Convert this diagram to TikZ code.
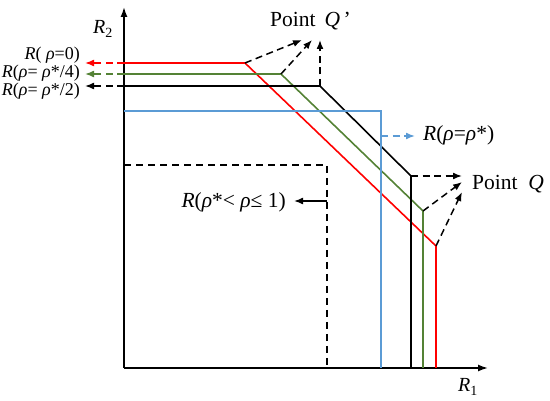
\documentclass[tikz,border=0pt]{standalone}
\usepackage{fontspec}
\setmainfont{Liberation Serif}
\usepackage{xcolor}
\usetikzlibrary{arrows.meta}

\definecolor{regred}{RGB}{255,0,0}
\definecolor{reggreen}{RGB}{84,130,53}
\definecolor{regblue}{RGB}{91,155,213}

\begin{document}
\begin{tikzpicture}[x=1pt, y=-1pt,
	axis/.style={line width=1.6pt, -{Latex[length=10pt,width=7pt]}},
	region/.style={line width=1.6pt},
	guide/.style={line width=1.5pt, dashed, dash pattern=on 7pt off 4.5pt, -{Latex[length=9pt,width=7pt]}},
	lbl/.style={inner sep=0pt, font=\fontsize{21.5}{21.5}\selectfont},
	small lbl/.style={inner sep=0pt, font=\fontsize{18}{18}\selectfont}]
	\useasboundingbox (0,0) rectangle (550,401);

	% axes
	\coordinate (O)    at (124,368);
	\coordinate (ytop) at (124,7);
	\coordinate (xend) at (488,368);
	\draw[axis] (O) -- (ytop);
	\draw[axis] (O) -- (xend);
	\node[lbl, font=\fontsize{20}{20}\selectfont] (R2) at (103,29)  {\textit{R}\textsubscript{2}};
	\node[lbl, font=\fontsize{20}{20}\selectfont] (R1) at (468,387) {\textit{R}\textsubscript{1}};

	% corners of the regions
	\coordinate (r0) at (124,63);  \coordinate (r1) at (245,63);
	\coordinate (r2) at (436,246); \coordinate (r3) at (436,368);
	\coordinate (g0) at (124,74);  \coordinate (g1) at (281,74);
	\coordinate (g2) at (423,211); \coordinate (g3) at (423,368);
	\coordinate (k0) at (124,86);  \coordinate (k1) at (320,86);
	\coordinate (k2) at (411,176); \coordinate (k3) at (411,368);
	\coordinate (b0) at (124,111); \coordinate (b1) at (381,111);
	\coordinate (b2) at (381,368);
	\coordinate (d0) at (124,165); \coordinate (d1) at (327,165);
	\coordinate (d2) at (327,368);

	\draw[region, regred]   (r0) -- (r1) -- (r2) -- (r3);
	\draw[region, reggreen] (g0) -- (g1) -- (g2) -- (g3);
	\draw[region, black]    (k0) -- (k1) -- (k2) -- (k3);
	\draw[region, regblue]  (b0) -- (b1) -- (b2);
	\draw[region, dashed, dash pattern=on 7pt off 5pt] (d0) -- (d1) -- (d2);

	% labels on the left
	\coordinate (rL) at (85,63);
	\coordinate (gL) at (85,74);
	\coordinate (kL) at (85,86);
	\draw[guide, regred]   (r0) -- (rL);
	\draw[guide, reggreen] (g0) -- (gL);
	\draw[guide, black]    (k0) -- (kL);
	\node[small lbl, anchor=east] (rho0) at (80,55) {\textit{R}( \textit{ρ}=0)};
	\node[small lbl, anchor=east] (rho4) at (80,73) {\textit{R}(\textit{ρ}= \textit{ρ}*/4)};
	\node[small lbl, anchor=east] (rho2) at (80,91) {\textit{R}(\textit{ρ}= \textit{ρ}*/2)};

	% point Q'
	\node[lbl, anchor=west] (Qp) at (270,21) {Point~\,\textit{Q}\,'};
	\coordinate (qp1) at (302,40);
	\coordinate (qp2) at (312,40);
	\coordinate (qp3) at (320,40);
	\draw[guide] (r1) -- (qp1);
	\draw[guide] (g1) -- (qp2);
	\draw[guide] (k1) -- (qp3);

	% point Q
	\node[lbl, anchor=west] (Q) at (472,184) {Point~~\textit{Q}};
	\coordinate (q1) at (462,176);
	\coordinate (q2) at (462,182);
	\coordinate (q3) at (462,192);
	\draw[guide] (k2) -- (q1);
	\draw[guide] (g2) -- (q2);
	\draw[guide] (r2) -- (q3);

	% rho star
	\coordinate (bs) at (381,136);
	\coordinate (be) at (415,136);
	\draw[guide, regblue] (bs) -- (be);
	\node[lbl, anchor=west] (rhos) at (423,135) {\textit{R}(\textit{ρ}=\textit{ρ}*)};

	% rho between
	\coordinate (ds) at (327,201);
	\coordinate (de) at (294,201);
	\draw[line width=1.5pt, -{Latex[length=9pt,width=7pt]}] (ds) -- (de);
	\node[lbl, anchor=east] (rhob) at (286,202) {\textit{R}(\textit{ρ}*< \textit{ρ}≤ 1)};
\end{tikzpicture}
\end{document}
